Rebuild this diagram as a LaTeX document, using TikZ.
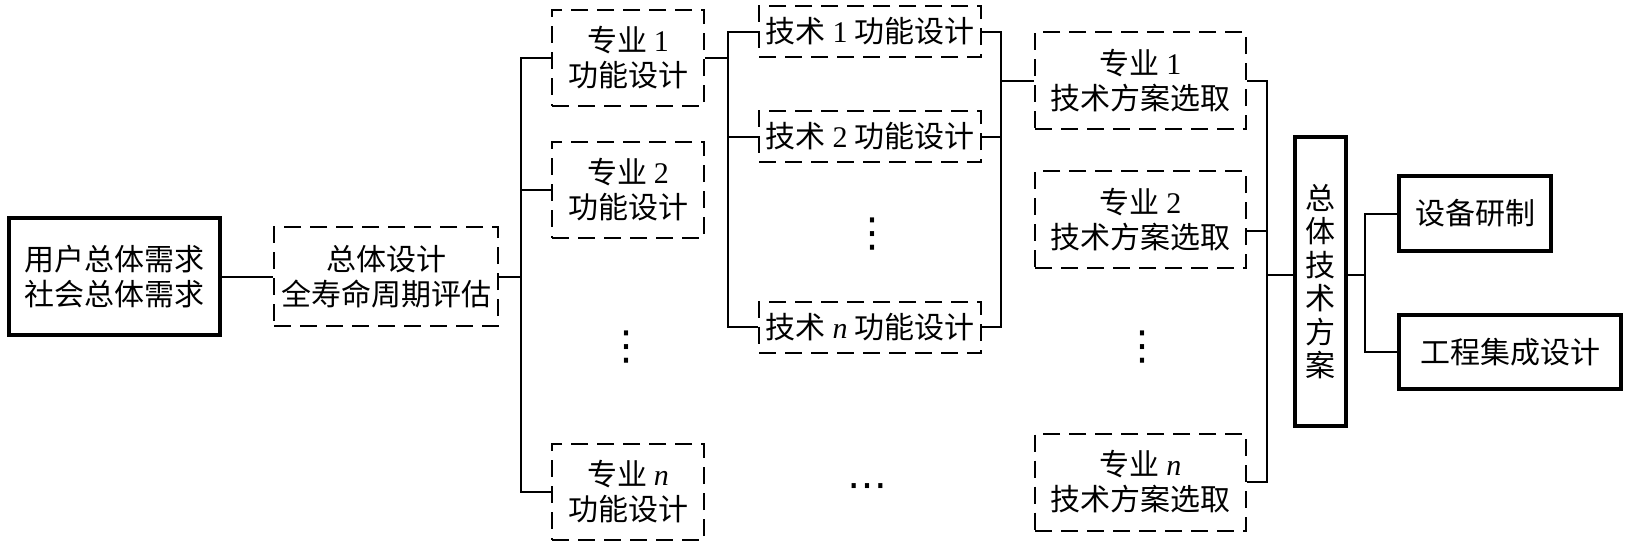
\documentclass[tikz,border=0pt]{standalone}
\usepackage{fontspec}
\setmainfont{Liberation Serif}
\newfontfamily\cjk{Noto Sans CJK SC}
\newfontfamily\symb{DejaVu Sans}
\usetikzlibrary{calc}

\newcommand{\eng}[1]{{\rmfamily #1}}

\tikzset{
    dashbox/.style={draw, line width=1pt, dash pattern=on 8.5pt off 4.5pt, align=center, inner sep=0pt,
        font=\cjk\fontsize{15}{17.5}\selectfont},
    thickbox/.style={draw, line width=2pt, align=center, inner sep=0pt,
        font=\cjk\fontsize{15}{17.5}\selectfont},
    dotsnode/.style={inner sep=0pt, font=\symb\fontsize{20}{20}\selectfont},
}

\begin{document}
\begin{tikzpicture}[x=0.5pt, y=-0.5pt, line width=1pt]
            \useasboundingbox (0, 0) rectangle (1627, 546);

            \node[thickbox, minimum width=105.5pt, minimum height=58.5pt] (user) at (114.5, 276.5) {用户总体需求\\社会总体需求};
            \node[dashbox, minimum width=112pt, minimum height=49.5pt] (overall) at (386, 276.5) {总体设计\\全寿命周期评估};

            \node[dashbox, minimum width=76pt, minimum height=48pt] (zy1) at (628, 58) {专业 \eng{1}\\功能设计};
            \node[dashbox, minimum width=76pt, minimum height=48pt] (zy2) at (628, 190) {专业 \eng{2}\\功能设计};
            \node[dashbox, minimum width=76pt, minimum height=48pt] (zyn) at (628, 492) {专业 \eng{\itshape n}\\功能设计};
            \node[dotsnode] (vd1) at (626, 347) {⋮};

            \node[dashbox, minimum width=111pt, minimum height=25.5pt] (js1) at (870, 31.5) {技术 \eng{1} 功能设计};
            \node[dashbox, minimum width=111pt, minimum height=25.5pt] (js2) at (870, 136.5) {技术 \eng{2} 功能设计};
            \node[dashbox, minimum width=111pt, minimum height=25.5pt] (jsn) at (870, 327) {技术 \eng{\itshape n} 功能设计};
            \node[dotsnode] (vd2) at (872, 234) {⋮};
            \node[dotsnode] (hd) at (867, 491) {⋯};

            \node[dashbox, minimum width=105.5pt, minimum height=48.5pt] (fa1) at (1140.5, 80.5) {专业 \eng{1}\\技术方案选取};
            \node[dashbox, minimum width=105.5pt, minimum height=48.5pt] (fa2) at (1140.5, 219.5) {专业 \eng{2}\\技术方案选取};
            \node[dashbox, minimum width=105.5pt, minimum height=48.5pt] (fan) at (1140.5, 482) {专业 \eng{\itshape n}\\技术方案选取};
            \node[dotsnode] (vd3) at (1142, 347) {⋮};

            \node[thickbox, minimum width=25.5pt, minimum height=144.5pt, font=\cjk\fontsize{15}{16.7}\selectfont] (zt) at (1320.5, 281.5) {总\\体\\技\\术\\方\\案};
            \node[thickbox, minimum width=76pt, minimum height=37.5pt] (sb) at (1475, 213.5) {设备研制};
            \node[thickbox, minimum width=111pt, minimum height=37pt] (gc) at (1510, 352) {工程集成设计};

            \coordinate (bus1) at (521, 0);
            \coordinate (bus2) at (728, 0);
            \coordinate (bus3) at (1001, 0);
            \coordinate (bus4) at (1267, 0);
            \coordinate (bus5) at (1365, 0);
            \coordinate (fa2c) at ([yshift=-5.5pt]fa2.east);
            \coordinate (ztl) at ([yshift=3.25pt]zt.west);
            \coordinate (ztr) at ([yshift=3.25pt]zt.east);

            \draw (user) -- (overall);
            \draw (overall.east) -- (overall.east -| bus1);
            \draw (zy1.west) -| (bus1 |- zyn.west) -- (zyn.west);
            \draw (zy2.west) -- (zy2.west -| bus1);

            \draw (zy1.east) -- (zy1.east -| bus2);
            \draw (js1.west) -| (bus2 |- jsn.west) -- (jsn.west);
            \draw (js2.west) -- (js2.west -| bus2);

            \draw (js1.east) -| (bus3 |- jsn.east) -- (jsn.east);
            \draw (js2.east) -- (js2.east -| bus3);
            \draw (fa1.west) -- (fa1.west -| bus3);

            \draw (fa1.east) -| (bus4 |- fan.east) -- (fan.east);
            \draw (fa2c) -- (fa2c -| bus4);
            \draw (ztl) -- (ztl -| bus4);

            \draw (ztr) -- (ztr -| bus5);
            \draw (sb.west) -| (bus5 |- gc.west) -- (gc.west);
        \end{tikzpicture}
\end{document}
